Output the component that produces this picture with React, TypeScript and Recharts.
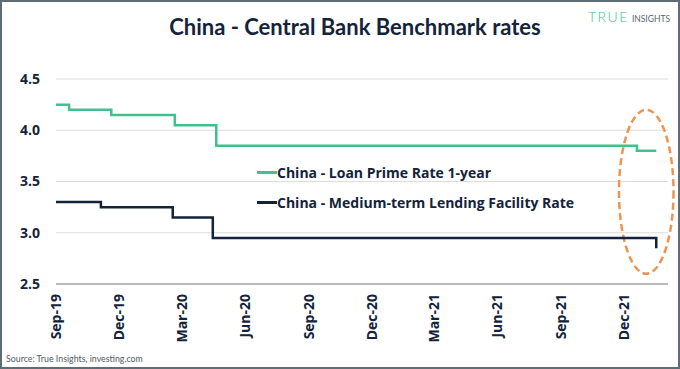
import {
  LineChart,
  Line,
  XAxis,
  YAxis,
  CartesianGrid,
  Legend,
  ReferenceArea,
} from "recharts";

const day = (s: string) => Date.parse(s + "T00:00:00Z");

// Loan Prime Rate 1-year (change dates)
const lprDates = ["2019-09-01", "2019-09-20", "2019-11-20", "2020-02-20", "2020-04-20", "2021-12-20", "2022-01-17"];
const lprValues = [4.25, 4.2, 4.15, 4.05, 3.85, 3.8, 3.8];

// Medium-term Lending Facility rate (change dates)
const mlfDates = ["2019-09-01", "2019-11-05", "2020-02-17", "2020-04-15", "2022-01-17"];
const mlfValues = [3.3, 3.25, 3.15, 2.95, 2.85];

const tickDates = ["2019-09-01", "2019-12-01", "2020-03-01", "2020-06-01", "2020-09-01", "2020-12-01", "2021-03-01", "2021-06-01", "2021-09-01", "2021-12-01"];
const tickLabels = ["Sep-19", "Dec-19", "Mar-20", "Jun-20", "Sep-20", "Dec-20", "Mar-21", "Jun-21", "Sep-21", "Dec-21"];
const yTicks = [2.5, 3.0, 3.5, 4.0, 4.5];

// highlighted window (dashed ellipse)
const highlightDates = ["2021-11-24", "2022-02-11"];
const highlightRates = [2.6, 4.2];

const lprData = lprDates.map((d, i) => ({ t: day(d), rate: lprValues[i] }));
const mlfData = mlfDates.map((d, i) => ({ t: day(d), rate: mlfValues[i] }));
const xTicks = tickDates.map(day);

const GREEN = "#3fc08c";
const NAVY = "#14233a";
const FONT = "Lato, 'Open Sans', sans-serif";
const WIDE = "'Open Sans', Lato, sans-serif";

const XTick = ({ x, y, payload }: any) => {
  const i = xTicks.indexOf(payload.value);
  return (
    <g transform={`translate(${x},${y})`}>
      <text
        transform="rotate(-90)"
        x={-2}
        dy="0.36em"
        textAnchor="end"
        fill={NAVY}
        fontSize={14}
        fontWeight={700}
        fontFamily={WIDE}
      >
        {tickLabels[i]}
      </text>
    </g>
  );
};

const Ellipse = ({ x, y, width, height }: any) => (
  <ellipse
    cx={x + width / 2}
    cy={y + height / 2}
    rx={width / 2}
    ry={height / 2}
    fill="none"
    stroke="#ee9350"
    strokeWidth={2.5}
    strokeDasharray="7 4"
  />
);

const LegendBox = ({ payload }: any) => (
  <div style={{ fontFamily: WIDE, fontWeight: 700, fontSize: 14, color: NAVY }}>
    {payload.map((p: any) => (
      <div key={p.value} style={{ display: "flex", alignItems: "center", height: 30, whiteSpace: "nowrap" }}>
        <span style={{ display: "inline-block", width: 20, height: 3, background: p.color }} />
        <span>{p.value}</span>
      </div>
    ))}
  </div>
);

export default function App() {
  return (
    <div style={{ position: "fixed", left: 0, top: 0, width: 680, height: 369, background: "#fff" }}>
      <div
        style={{
          position: "absolute",
          left: 0,
          top: 13,
          width: 710,
          textAlign: "center",
          fontFamily: FONT,
          fontWeight: 700,
          fontSize: 22,
          color: NAVY,
        }}
      >
        China - Central Bank Benchmark rates
      </div>
      <div style={{ position: "absolute", left: 588, top: 6, fontFamily: FONT, whiteSpace: "nowrap" }}>
        <span style={{ color: GREEN, fontSize: 14, fontWeight: 300, letterSpacing: 1.5 }}>TRUE</span>
        <span style={{ color: "#56646c", fontSize: 8.5, marginLeft: 3 }}>INSIGHTS</span>
      </div>
      <LineChart width={680} height={369} margin={{ top: 79, right: 12, left: 0, bottom: 0 }}>
        <CartesianGrid vertical={false} stroke="#dcdcdc" strokeWidth={1} />
        <XAxis
          type="number"
          dataKey="t"
          domain={[day("2019-09-01"), day("2022-02-03")]}
          ticks={xTicks}
          interval={0}
          tick={<XTick />}
          tickLine={false}
          axisLine={{ stroke: "#a8a8a8", strokeWidth: 1.5 }}
          height={85}
          allowDataOverflow
        />
        <YAxis
          type="number"
          domain={[2.5, 4.5]}
          ticks={yTicks}
          tickFormatter={(v: number) => v.toFixed(1)}
          tick={{ fill: NAVY, fontSize: 14, fontWeight: 700, fontFamily: WIDE }}
          tickLine={false}
          axisLine={false}
          width={56}
          tickMargin={10}
        />
        <ReferenceArea
          x1={day(highlightDates[0])}
          x2={day(highlightDates[1])}
          y1={highlightRates[0]}
          y2={highlightRates[1]}
          ifOverflow="visible"
          shape={<Ellipse />}
        />
        <Line
          data={lprData}
          dataKey="rate"
          name="China - Loan Prime Rate 1-year"
          type="stepAfter"
          stroke={GREEN}
          strokeWidth={2.5}
          dot={false}
          isAnimationActive={false}
        />
        <Line
          data={mlfData}
          dataKey="rate"
          name="China - Medium-term Lending Facility Rate"
          type="stepAfter"
          stroke={NAVY}
          strokeWidth={2.5}
          dot={false}
          isAnimationActive={false}
        />
        <Legend
          layout="horizontal"
          verticalAlign="middle"
          align="center"
          content={<LegendBox />}
          wrapperStyle={{ left: 257, top: 157, width: "auto" }}
        />
      </LineChart>
      <div
        style={{
          position: "absolute",
          left: 6,
          top: 353,
          fontFamily: FONT,
          fontSize: 8.8,
          color: "#4c5a64",
        }}
      >
        Source: True Insights, investing.com
      </div>
      <div
        style={{
          position: "absolute",
          inset: 0,
          border: "2px solid #5e6c75",
          pointerEvents: "none",
        }}
      />
    </div>
  );
}
